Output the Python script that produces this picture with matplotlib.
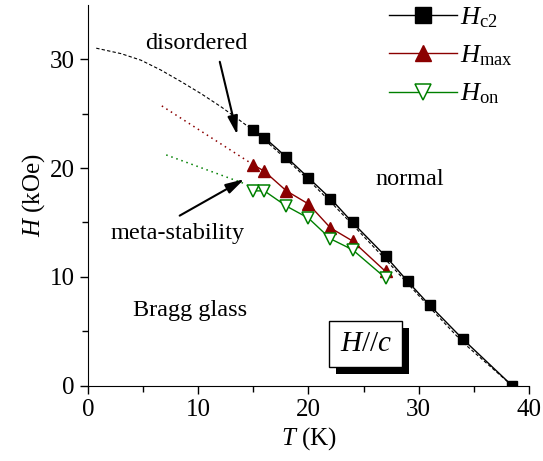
import matplotlib
matplotlib.use('Agg')
import matplotlib.pyplot as plt
import matplotlib.patheffects as pe

plt.rcParams['font.family'] = ['Liberation Serif', 'DejaVu Serif']
plt.rcParams['mathtext.fontset'] = 'custom'
plt.rcParams['mathtext.it'] = 'Liberation Serif:italic'
plt.rcParams['mathtext.rm'] = 'Liberation Serif'

# data
T_c2 = [15, 16, 18, 20, 22, 24, 27, 29, 31, 34, 38.5]
H_c2 = [23.5, 22.8, 21.0, 19.1, 17.2, 15.0, 11.9, 9.6, 7.4, 4.3, 0.0]

T_max = [15, 16, 18, 20, 22, 24, 27]
H_max = [20.3, 19.7, 17.9, 16.7, 14.5, 13.3, 10.5]

T_on = [15, 16, 18, 20, 22, 24, 27]
H_on = [17.9, 17.9, 16.5, 15.4, 13.5, 12.5, 9.9]

# extrapolation curves
T_fit = [0.75, 3.0, 4.8, 6.6, 8.5, 10.3, 12.1, 13.6, 14.8, 16, 18, 20, 22, 24, 27, 29, 31, 34, 38.5]
H_fit = [31.0, 30.5, 29.9, 29.0, 27.9, 26.8, 25.6, 24.5, 23.6, 22.6, 20.8, 18.9, 16.9, 14.8, 11.6, 9.4, 7.2, 4.0, 0.0]
T_max_ext = [6.7, 15]
H_max_ext = [25.7, 20.3]
T_on_ext = [7.1, 14.1]
H_on_ext = [21.2, 18.6]

red = '#8b0000'
green = '#008000'

fig = plt.figure(figsize=(5.43, 4.61), dpi=100)
ax = fig.add_axes([0.162, 0.163, 0.812, 0.827])

ax.plot(T_fit, H_fit, color='k', ls=(0, (3, 2)), lw=0.8)
ax.plot(T_max_ext, H_max_ext, color=red, ls=(0, (1, 2.5)), lw=1.1)
ax.plot(T_on_ext, H_on_ext, color=green, ls=(0, (1, 2.5)), lw=1.1)

ax.plot(T_c2, H_c2, color='k', lw=1, marker='s', ms=6.5, label=r'$H_{\mathrm{c2}}$')
ax.plot(T_max, H_max, color=red, lw=1, marker='^', ms=8, label=r'$H_{\mathrm{max}}$')
ax.plot(T_on, H_on, color=green, lw=1, marker='v', ms=8, mfc='white', mec=green,
        mew=1.1, label=r'$H_{\mathrm{on}}$')

ax.set_xlim(0, 40)
ax.set_ylim(0, 35)
ax.set_xticks([0, 10, 20, 30, 40])
ax.set_xticks([5, 15, 25, 35], minor=True)
ax.set_yticks([0, 10, 20, 30])
ax.set_yticks([5, 15, 25], minor=True)
ax.spines['top'].set_visible(False)
ax.spines['right'].set_visible(False)
ax.tick_params(which='major', direction='out', length=6, width=1, labelsize=18)
ax.tick_params(which='minor', direction='out', length=4, width=1)
ax.set_xlabel(r'$T$ (K)', fontsize=18, labelpad=3)
ax.set_ylabel(r'$H$ (kOe)', fontsize=18, labelpad=2)

leg = ax.legend(loc='upper right', bbox_to_anchor=(1.0, 1.04), frameon=False, fontsize=19,
                handlelength=2.6, labelspacing=0.52, handletextpad=0.1, borderaxespad=0.2)
for h in leg.legend_handles:
    h.set_markersize(11)

ax.text(9.8, 31.4, 'disordered', fontsize=17.5, ha='center', va='center')
ax.annotate('', xy=(13.6, 22.8), xytext=(11.9, 30.0),
            arrowprops=dict(arrowstyle='-|>,head_length=0.8,head_width=0.22', color='k',
                            lw=1.5, mutation_scale=14))
ax.text(8.1, 14.0, 'meta-stability', fontsize=17.5, ha='center', va='center')
ax.annotate('', xy=(14.4, 19.1), xytext=(8.1, 15.5),
            arrowprops=dict(arrowstyle='-|>,head_length=0.8,head_width=0.22', color='k',
                            lw=1.5, mutation_scale=14))
ax.text(29.2, 18.9, 'normal', fontsize=17.5, ha='center', va='center')
ax.text(9.3, 6.9, 'Bragg glass', fontsize=17.5, ha='center', va='center')

box = ax.text(25.2, 3.85, r'$H//c$', fontsize=21, ha='center', va='center',
              bbox=dict(boxstyle='square,pad=0.35', fc='white', ec='k', lw=1))
box.get_bbox_patch().set_path_effects([
    pe.SimplePatchShadow(offset=(5, -5), shadow_rgbFace='k', alpha=1.0),
    pe.Normal()])

fig.savefig('out.png', dpi=100)
